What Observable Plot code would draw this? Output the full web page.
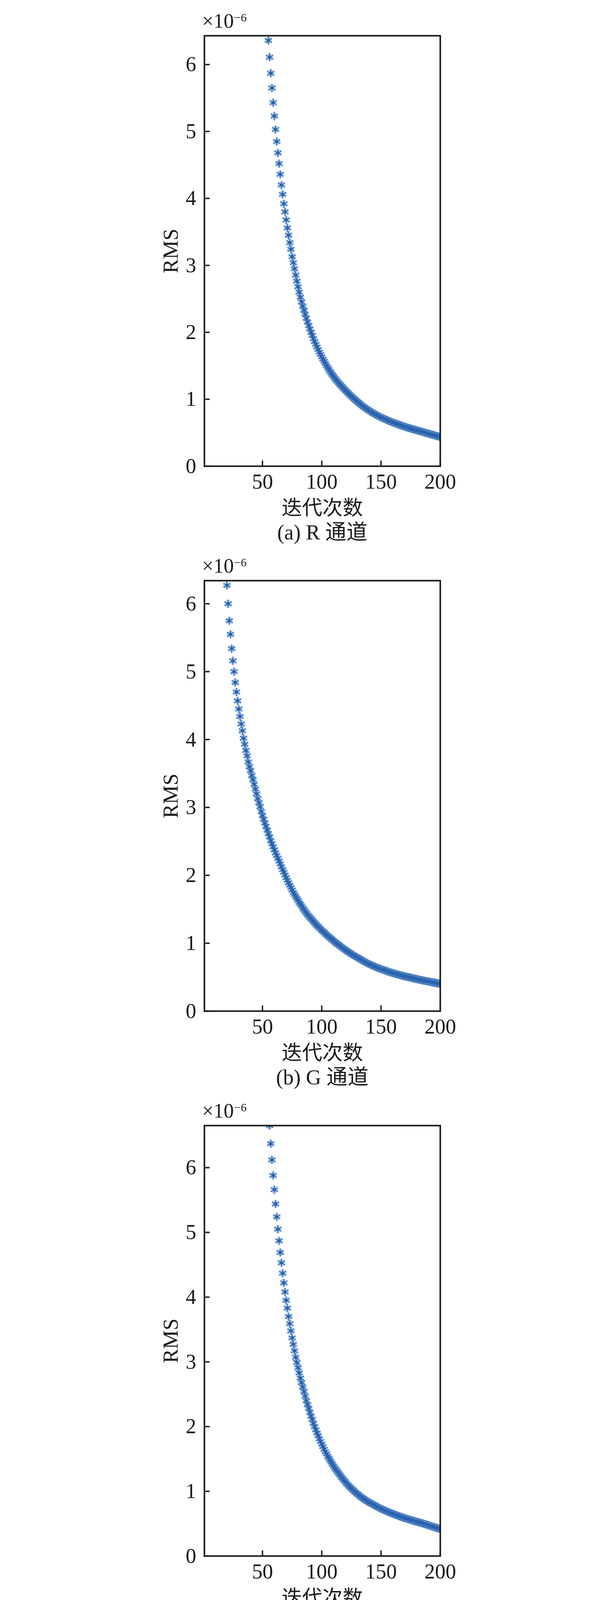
<!DOCTYPE html>
<html><head><meta charset="utf-8">
<script src="https://cdn.jsdelivr.net/npm/d3@7"></script>
<script src="https://cdn.jsdelivr.net/npm/@observablehq/plot@0.6"></script>
<style>
html,body{margin:0;padding:0;background:#fff;}
#chart svg{display:block;}
</style></head><body><div id="chart"></div>
<script>
// Tick labels
const xTicks = [50, 100, 150, 200];
const yTicks = [0, 1, 2, 3, 4, 5, 6];
const xLabel = "迭代次数";
const yLabel = "RMS";
const expBase = "×10";
const expPow = "−6";

// R channel: first iteration shown and RMS values (×1e-6)
const startR = 55;
const rmsR = [6.36,6.11,5.87,5.65,5.43,5.23,5.03,4.85,4.68,4.52,4.36,4.20,4.06,3.92,3.80,3.68,3.56,3.45,3.34,3.24,3.13,3.04,2.95,
2.855,2.765,2.68,2.60,2.525,2.455,2.39,2.33,2.27,2.21,2.155,2.10,2.05,2.0,1.952,1.906,1.862,1.82,1.78,
1.742,1.705,1.669,1.634,1.60,1.567,1.535,1.504,1.474,1.445,1.417,1.39,1.364,1.339,1.315,1.292,1.27,1.249,1.229,1.21,
1.19,1.171,1.152,1.133,1.115,1.097,1.079,1.062,1.045,1.028,1.012,0.996,0.98,0.965,0.95,0.935,0.92,0.905,
0.892,0.879,0.866,0.854,0.842,0.83,0.819,0.808,0.797,0.787,0.777,0.767,0.757,0.748,0.739,0.73,
0.722,0.714,0.706,0.698,0.69,0.682,0.675,0.668,0.661,0.654,0.647,0.64,0.633,0.627,0.621,0.615,0.609,0.603,0.597,0.591,
0.585,0.579,0.573,0.568,0.563,0.557,0.552,0.547,0.542,0.537,0.532,0.527,0.522,0.517,0.512,0.507,0.502,0.497,0.492,0.487,
0.482,0.477,0.472,0.467,0.462,0.457,0.452,0.447,0.442,0.437];
const ymaxR = 6.43;

// G channel
const startG = 20;
const rmsG = [6.27,6.00,5.75,5.55,5.34,5.16,5.00,4.84,4.70,4.57,4.45,4.34,4.23,4.13,4.02,3.93,3.84,3.76,3.67,
3.60,3.54,3.47,3.41,3.34,3.27,3.20,3.13,3.07,3.01,2.94,
2.88,2.825,2.77,2.72,2.665,2.615,2.565,2.51,2.465,2.42,
2.375,2.33,2.29,2.25,2.21,2.17,2.125,2.085,2.045,2.005,1.965,
1.925,1.89,1.855,1.82,1.785,1.75,1.72,1.69,1.66,1.63,1.60,1.575,1.55,1.52,1.495,1.47,1.445,1.42,1.40,1.38,1.36,1.34,1.32,1.30,1.28,1.26,1.245,1.225,1.21,1.19,
1.175,1.16,1.14,1.125,1.11,1.095,1.08,1.065,1.05,1.035,
1.02,1.005,0.99,0.98,0.965,0.95,0.94,0.925,0.915,0.90,
0.89,0.875,0.865,0.855,0.84,0.83,0.82,0.81,0.80,0.79,
0.78,0.77,0.76,0.75,0.74,0.73,0.72,0.71,0.70,0.695,
0.685,0.675,0.67,0.66,0.655,0.645,0.64,0.63,0.625,0.62,
0.613,0.607,0.601,0.595,0.589,0.583,0.577,0.571,0.566,0.561,
0.556,0.551,0.546,0.541,0.536,0.531,0.526,0.521,0.517,0.513,
0.509,0.505,0.501,0.497,0.493,0.489,0.485,0.481,0.477,0.473,
0.469,0.465,0.461,0.458,0.454,0.45,0.447,0.443,0.44,0.436,
0.433,0.429,0.426,0.422,0.419,0.416,0.412,0.409,0.406,0.403];
const ymaxG = 6.34;

// B channel
const startB = 56;
const rmsB = [6.65,6.37,6.12,5.88,5.66,5.44,5.24,5.05,4.87,4.69,4.53,4.37,4.22,4.08,3.95,3.83,3.70,3.59,3.48,3.37,3.27,3.17,3.07,
2.99,2.91,2.83,2.75,2.68,2.61,2.54,2.47,2.40,2.34,2.28,2.22,2.16,2.11,2.05,2.00,1.95,1.90,1.86,1.81,1.77,1.73,1.69,1.65,1.61,1.58,1.54,1.51,1.48,1.45,1.42,
1.39,1.36,1.335,1.31,1.285,1.26,1.235,1.21,1.19,1.165,1.145,1.12,1.10,1.08,1.06,1.045,1.025,1.01,0.99,0.975,
0.96,0.945,0.93,0.915,0.90,0.89,0.875,0.865,0.85,0.84,0.83,0.82,0.81,0.80,0.79,0.78,0.77,0.76,0.75,0.74,0.73,
0.722,0.714,0.706,0.698,0.69,0.682,0.674,0.667,0.66,0.653,0.646,0.639,0.632,0.625,0.618,0.611,0.605,0.599,0.593,0.587,
0.581,0.575,0.569,0.563,0.557,0.552,0.546,0.541,0.536,0.531,0.526,0.521,0.516,0.511,0.506,0.500,0.494,0.488,0.482,0.476,
0.47,0.464,0.458,0.452,0.446,0.44,0.434,0.429,0.424,0.419];
const ymaxB = 6.65;

const captions = ["(a) R 通道", "(b) G 通道", "(c) B 通道"];

const SERIF = "'Times New Roman','Liberation Serif','Noto Sans CJK SC',serif";
const CJK = "'Noto Sans CJK SC',sans-serif";
const INK = "#1a1a1a";
const fmt = d3.format("d");

const panels = [
  {start: startR, values: rmsR, ymax: ymaxR, caption: captions[0], h: 1395, top: 91},
  {start: startG, values: rmsG, ymax: ymaxG, caption: captions[1], h: 1395, top: 91},
  {start: startB, values: rmsB, ymax: ymaxB, caption: captions[2], h: 1403, top: 91}
];

function panel(p) {
  const data = p.values.map((v, i) => ({n: p.start + i, v}));
  return Plot.plot({
    width: 1575, height: p.h,
    marginTop: p.top, marginBottom: p.h - p.top - 1102, marginLeft: 523, marginRight: 448,
    style: {fontFamily: SERIF, color: INK, background: "#fff", overflow: "visible"},
    x: {domain: [1, 200]},
    y: {domain: [0, p.ymax]},
    marks: [
      Plot.dot(data, {x: "n", y: "v", r: 10, fill: "#b4cfec", fillOpacity: 0.8, stroke: "none", clip: true}),
      Plot.dot(data, {x: "n", y: "v", symbol: "asterisk", r: 10, stroke: "#4a7fc2", strokeWidth: 3.2, clip: true}),
      Plot.dot(data, {x: "n", y: "v", r: 4.5, fill: "#2b63ac", stroke: "none", clip: true}),
      Plot.frame({stroke: INK, strokeWidth: 4}),
      Plot.axisY(yTicks, {tickSize: 14, dx: 14, fill: "none", stroke: INK, strokeWidth: 3.5, label: null}),
      Plot.axisY(yTicks, {tickSize: 0, tickPadding: 21, fontSize: 54, fill: INK, tickFormat: fmt, label: null}),
      Plot.axisX(xTicks, {tickSize: 14, dy: -14, fill: "none", stroke: INK, strokeWidth: 3.5, label: null}),
      Plot.axisX(xTicks, {tickSize: 0, tickPadding: 19, fontSize: 54, fill: INK, tickFormat: fmt, label: null}),
      Plot.text([yLabel], {frameAnchor: "left", rotate: -90, dx: -86, fontSize: 54, textAnchor: "middle", lineAnchor: "middle", fill: INK}),
      Plot.text([expBase], {frameAnchor: "top-left", dx: -6, dy: -21, fontSize: 52, textAnchor: "start", lineAnchor: "bottom", fill: INK}),
      Plot.text([expPow], {frameAnchor: "top-left", dx: 76, dy: -37, fontSize: 30, textAnchor: "start", lineAnchor: "bottom", fill: INK}),
      Plot.text([xLabel], {frameAnchor: "bottom", dy: 108, fontSize: 52, lineAnchor: "middle", fontFamily: CJK, fill: INK}),
      Plot.text([p.caption], {frameAnchor: "bottom", dy: 170, fontSize: 54, lineAnchor: "middle", fill: INK})
    ]
  });
}

const root = document.getElementById("chart");
for (const p of panels) root.appendChild(panel(p));
</script>
</body></html>
